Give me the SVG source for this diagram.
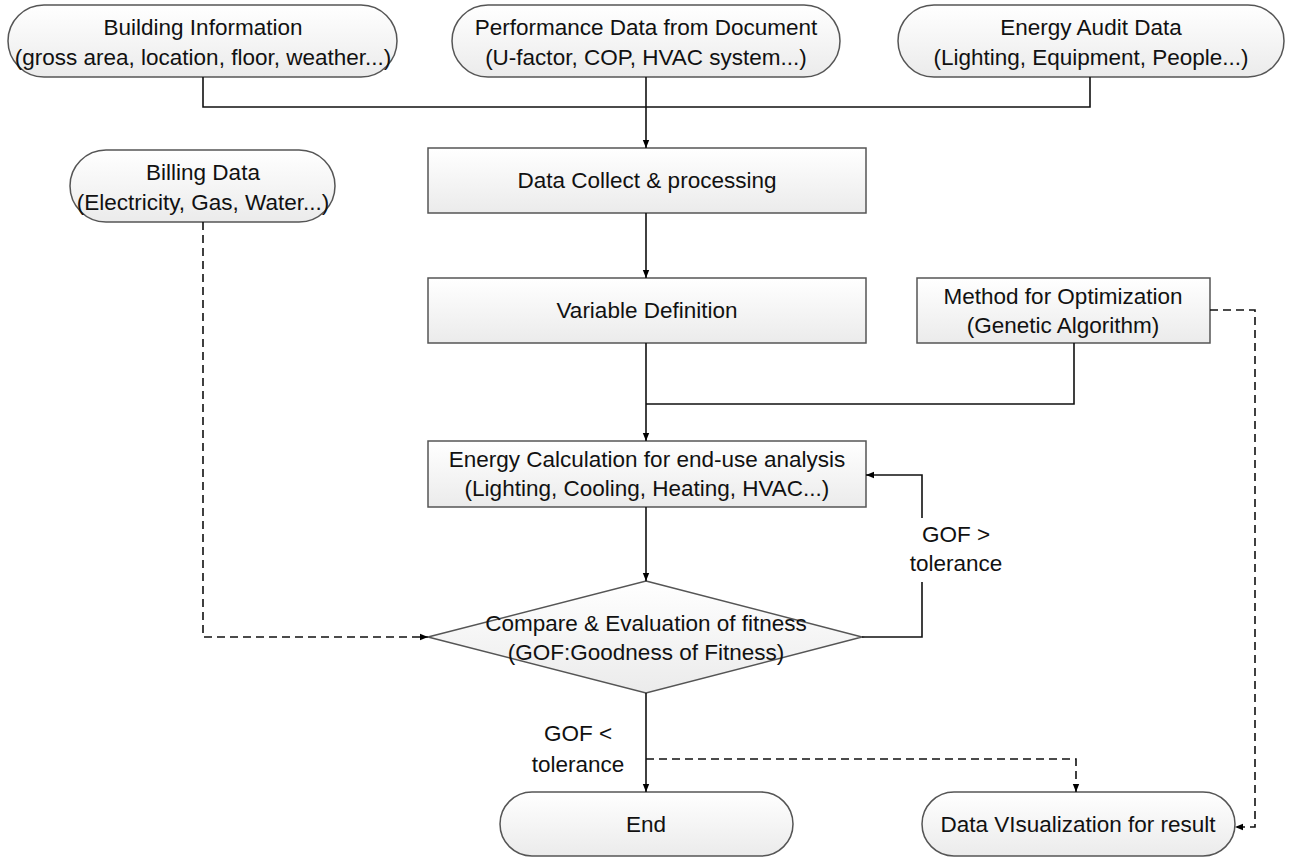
<svg xmlns="http://www.w3.org/2000/svg" width="1290" height="862" viewBox="0 0 1290 862">
<defs>
<linearGradient id="g" x1="0" y1="0" x2="0" y2="1">
<stop offset="0" stop-color="#ffffff"/>
<stop offset="1" stop-color="#ebebeb"/>
</linearGradient>
<marker id="ah" viewBox="0 0 10 10" refX="10" refY="5" markerWidth="8" markerHeight="8" orient="auto" markerUnits="userSpaceOnUse">
<path d="M0,1 L10,5 L0,9 z" fill="#000"/>
</marker>
</defs>
<style>
.n{fill:url(#g);stroke:#555;stroke-width:1.5}
.t{font-family:"Liberation Sans",Arial,sans-serif;font-size:22.5px;fill:#111;text-anchor:middle}
.c{fill:none;stroke:#111;stroke-width:1.6}
.d{stroke-dasharray:8,5}
</style>
<rect width="1290" height="862" fill="#fff"/>
<g id="building-info">
<rect class="n" x="8" y="5" width="389" height="72" rx="36"/>
<text class="t" x="203" y="35">Building Information</text>
<text class="t" x="203" y="65">(gross area, location, floor, weather...)</text>
</g>
<g id="performance-data">
<rect class="n" x="452" y="5" width="388" height="72" rx="36"/>
<text class="t" x="646" y="35">Performance Data from Document</text>
<text class="t" x="646" y="65">(U-factor, COP, HVAC system...)</text>
</g>
<g id="energy-audit">
<rect class="n" x="898" y="5" width="386" height="72" rx="36"/>
<text class="t" x="1091" y="35">Energy Audit Data</text>
<text class="t" x="1091" y="65">(Lighting, Equipment, People...)</text>
</g>
<g id="billing-data">
<rect class="n" x="70" y="150" width="265" height="72" rx="36"/>
<text class="t" x="203" y="180">Billing Data</text>
<text class="t" x="203" y="210">(Electricity, Gas, Water...)</text>
</g>
<g id="data-collect">
<rect class="n" x="428" y="148" width="438" height="65"/>
<text class="t" x="647" y="188">Data Collect &amp; processing</text>
</g>
<g id="variable-definition">
<rect class="n" x="428" y="278" width="438" height="65"/>
<text class="t" x="647" y="318">Variable Definition</text>
</g>
<g id="method-optimization">
<rect class="n" x="917" y="278" width="293" height="65"/>
<text class="t" x="1063" y="304">Method for Optimization</text>
<text class="t" x="1063" y="333">(Genetic Algorithm)</text>
</g>
<g id="energy-calculation">
<rect class="n" x="428" y="441" width="438" height="66"/>
<text class="t" x="647" y="467">Energy Calculation for end-use analysis</text>
<text class="t" x="647" y="496">(Lighting, Cooling, Heating, HVAC...)</text>
</g>
<g id="compare">
<polygon class="n" points="646,581 862,637 646,693 428,637"/>
<text class="t" x="646" y="631">Compare &amp; Evaluation of fitness</text>
<text class="t" x="646" y="660">(GOF:Goodness of Fitness)</text>
</g>
<g id="end">
<rect class="n" x="500" y="792" width="293" height="64" rx="32"/>
<text class="t" x="646" y="832">End</text>
</g>
<g id="data-visualization">
<rect class="n" x="922" y="792" width="313" height="64" rx="32"/>
<text class="t" x="1078" y="832">Data VIsualization for result</text>
</g>
<g id="connectors">
<path class="c" d="M203,77 V107 H1090 V77"/>
<path class="c" d="M646,77 V148" marker-end="url(#ah)"/>
<path class="c" d="M646,213 V278" marker-end="url(#ah)"/>
<path class="c" d="M646,343 V441" marker-end="url(#ah)"/>
<path class="c" d="M1074,343 V404 H646"/>
<path class="c" d="M646,507 V581" marker-end="url(#ah)"/>
<path class="c" d="M862,637 H922 V582"/>
<path class="c" d="M922,518 V475 H866" marker-end="url(#ah)"/>
<path class="c d" d="M203,222 V637 H428" marker-end="url(#ah)"/>
<path class="c" d="M646,693 V792" marker-end="url(#ah)"/>
<path class="c d" d="M646,759 H1076 V792" marker-end="url(#ah)"/>
<path class="c d" d="M1210,310 H1255 V827 H1235" marker-end="url(#ah)"/>
<text class="t" x="956" y="542">GOF &gt;</text>
<text class="t" x="956" y="571">tolerance</text>
<text class="t" x="578" y="741">GOF &lt;</text>
<text class="t" x="578" y="772">tolerance</text>
</g>
</svg>
